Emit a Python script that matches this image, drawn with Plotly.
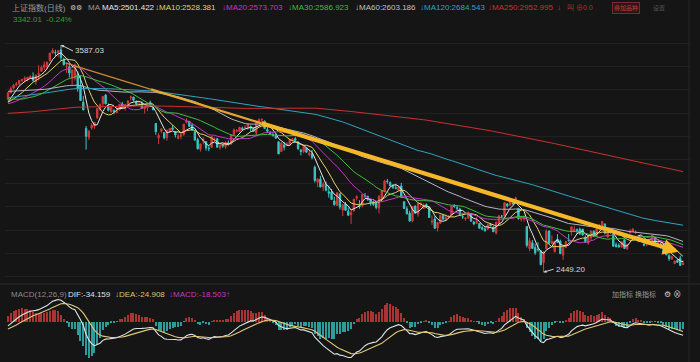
import plotly.graph_objects as go
import pandas as pd

# ---- data: Shanghai Composite daily, 2018 (visible) ----
opens = [
 3314,3347,3371,3387,3392,3407,3414,3415,3423,3428,3403,3439,3455,3475,3478,3509,3547,3550,3548,3563,3512,3479,
 3478,3420,3420,3438,3384,3300,3169,3125,3171,3180,3222,3265,3293,3337,3281,
 3253,3259,3248,3261,3292,3270,3284,3323,3326,3301,3288,3295,3268,3272,3300,3273,3194,3122,3155,3148,3123,3157,
 3172,3153,3119,3129,3139,3199,3205,3186,3153,3113,3065,3107,3103,3070,3074,3114,3118,3074,
 3087,3077,3097,3090,3137,3155,3155,3171,3173,3174,3179,3169,3148,3202,3211,3205,3164,3149,3138,3133,3102,3053,
 3086,3085,3087,3112,3118,3101,3062,3053,3072,3039,3043,2975,2899,2915,2876,2890,2852,2851,2806,2784,
 2842,2760,2790,2755,2737,2756,2820,2781,2782,2833,2828,2814,2802,2795,2770,2819,2855,2906,2898,2881,2872,2859,
 2881,2802,2767,2744,2706,2780,2740,2788,2768,2788,2776,2700,2716,2671,2694,2734,2713,2725,2736,2781,2772,2766,2727,
 2717,2720,2743,2700,2694,2693,2672,2665,2665,2689,2675,2645,2693,2730,2731,2791,2784,2796,2795,
 2768,2714,2715,2678,2567,2596,2572,2562,2556,2497,2566,2656,2593,2552,2615,2605,2534,2573,
 2609,2650,2656,2662,2664,2665,2624,2595,2620,2654,2631,2665,2683,2691,2625,2655,2642,2586,2583,2575,2612,2566,
 2647,2653,2647,2627,2618,2589,2588,2603,2604,2622,2597,2590,2580,2546,2532,2515,2493,2509,2519,2487]
highs = [
 3349,3379,3392,3402,3412,3418,3430,3426,3435,3450,3437,3486,3485,3505,3502,3547,3571,3563,3561,3587.03,3524,3495,
 3495,3463,3494,3454,3433,3332,3181,3161,3195,3202,3271,3294,3331,3338,3294,
 3283,3265,3276,3290,3302,3290,3308,3333,3328,3309,3302,3306,3281,3292,3308,3281,3194,3145,3172,3150,3162,3171,
 3186,3153,3143,3151,3191,3220,3205,3193,3153,3122,3093,3125,3103,3080,3129,3125,3119,3092,
 3091,3103,3109,3138,3169,3165,3177,3178,3185,3192,3183,3175,3194,3219,3219,3209,3176,3157,3150,3143,3105,3100,
 3102,3100,3116,3121,3127,3105,3062,3080,3072,3061,3061,2984,2919,2932,2901,2903,2883,2866,2827,2848,
 2842,2789,2801,2773,2762,2815,2834,2810,2838,2846,2833,2815,2808,2801,2836,2860,2912,2916,2904,2889,2892,2882,
 2897,2803,2779,2757,2779,2784,2795,2797,2794,2794,2777,2733,2729,2699,2736,2734,2738,2735,2781,2790,2783,2772,2737,
 2725,2751,2746,2707,2725,2694,2679,2675,2694,2695,2679,2700,2736,2736,2798,2796,2816,2808,2827,
 2772,2731,2733,2678,2621,2610,2591,2599,2557,2553,2664,2656,2634,2605,2640,2612,2575,2606,
 2641,2677,2682,2668,2673,2665,2633,2632,2658,2659,2668,2691,2704,2691,2660,2663,2647,2598,2594,2602,2613,2589,
 2665,2667,2659,2633,2621,2601,2597,2612,2636,2622,2602,2598,2592,2568,2541,2533,2507,2514,2532,2509]
lows = [
 3314,3346,3365,3380,3384,3403,3398,3405,3418,3403,3388,3410,3452,3462,3465,3504,3544,3528,3526,3509,3485,3447,
 3424,3388,3409,3353,3307,3260,3062.74,3112,3162,3167,3217,3256,3279,3290,3255,
 3248,3240,3247,3259,3268,3258,3280,3309,3303,3283,3282,3268,3244,3255,3277,3259,3137,3091,3145,3114,3108,3146,
 3162,3123,3114,3115,3132,3194,3177,3157,3108,3064,3053,3089,3058,3055,3072,3104,3073,3062,
 3072,3067,3087,3090,3136,3149,3150,3159,3168,3163,3153,3153,3133,3196,3201,3168,3150,3139,3128,3119,3041,3053,
 3059,3082,3083,3103,3106,3062,3034,3045,3049,3029,3014,2898,2875,2874,2855,2854,2822,2811,2783,2782,
 2763,2730,2758,2733,2691,2753,2808,2767,2773,2821,2806,2782,2782,2764,2743,2799,2849,2892,2880,2866,2864,2858,
 2822,2765,2740,2703,2699,2744,2727,2775,2767,2774,2722,2686,2666,2653,2690,2712,2705,2716,2736,2771,2760,2736,2716,
 2706,2717,2704,2684,2690,2668,2659,2653,2660,2679,2651,2638,2691,2719,2729,2774,2784,2788,2795,
 2713,2702,2703,2573,2554,2567,2536,2552,2484,2449.20,2566,2592,2593,2547,2597,2539,2511,2569,
 2604,2632,2654,2641,2637,2632,2596,2587,2608,2627,2628,2661,2680,2639,2620,2644,2578,2575,2573,2572,2566,2560,
 2643,2650,2640,2603,2602,2579,2579,2595,2602,2593,2580,2567,2545,2534,2506,2511,2489,2495,2483,2486]
closes = [
 3348.33,3369.11,3385.71,3391.75,3409.48,3413.90,3421.83,3425.34,3428.94,3410.49,3436.59,3444.67,3474.75,3487.86,3501.36,3546.50,3559.47,3548.31,3558.13,3523.00,3488.01,3480.83,
 3446.98,3462.08,3487.50,3370.65,3309.26,3262.05,3129.85,3154.13,3184.96,3199.16,3268.56,3289.02,3329.57,3292.07,3259.41,
 3273.75,3254.53,3256.93,3289.64,3271.67,3288.41,3307.17,3326.70,3310.24,3291.38,3291.11,3269.88,3279.25,3290.64,3280.95,3263.48,3152.76,3133.72,3166.65,3122.29,3160.53,3168.90,
 3163.18,3136.63,3131.11,3138.29,3190.32,3208.08,3180.16,3159.05,3110.65,3066.80,3091.40,3117.38,3071.54,3068.01,3128.93,3117.97,3075.03,3082.23,
 3081.18,3100.86,3091.03,3136.64,3161.50,3159.15,3174.41,3163.26,3174.03,3192.12,3169.57,3154.28,3193.30,3213.84,3214.35,3168.96,3154.65,3141.30,3135.08,3120.46,3041.44,3095.47,
 3075.14,3091.19,3114.21,3115.18,3109.50,3067.15,3052.78,3079.80,3049.80,3044.16,3021.90,2907.82,2915.73,2875.81,2889.76,2859.34,2844.51,2813.18,2786.90,2847.42,
 2775.56,2786.89,2759.13,2733.88,2747.23,2815.11,2827.63,2777.77,2837.66,2831.18,2814.04,2798.13,2787.26,2772.55,2829.27,2859.54,2905.56,2903.65,2882.23,2873.59,2869.05,2876.40,
 2824.53,2768.02,2740.44,2705.16,2779.37,2744.07,2794.38,2795.31,2785.87,2780.96,2723.26,2705.50,2668.97,2698.47,2733.99,2714.61,2724.62,2729.43,2780.90,2777.98,2769.30,2737.74,2725.25,
 2720.73,2750.58,2704.34,2691.59,2702.30,2669.48,2664.80,2656.11,2686.58,2681.64,2651.79,2699.95,2730.85,2729.24,2797.49,2781.14,2806.81,2791.77,2821.35,
 2716.51,2721.01,2725.84,2583.46,2606.91,2568.10,2546.33,2561.61,2486.42,2550.47,2654.88,2594.83,2603.30,2603.80,2598.85,2542.10,2568.05,2602.78,
 2606.24,2676.48,2665.43,2659.36,2641.34,2635.63,2598.87,2630.52,2654.88,2632.24,2668.17,2679.11,2703.51,2645.43,2651.51,2645.85,2579.48,2575.81,2574.68,2601.74,2567.44,2588.19,
 2654.80,2665.96,2649.81,2605.18,2605.89,2584.58,2594.09,2602.15,2634.05,2593.74,2597.97,2576.65,2549.56,2536.27,2516.25,2527.01,2504.82,2498.29,2483.09,2493.90]

# earlier closes (late 2016 - 2017), used only to warm up the indicators
prior_closes = [
 3122,3114,3110,3104,3104,
 3135,3158,3165,3154,3171,3161,3136,3119,3112,3103,3108,3113,3101,3123,3123,3136,3143,3149,3159,
 3140,3159,3166,3153,3183,3166,3197,3216,3217,3212,3237,3202,3240,3253,3261,3253,3228,3241,
 3246,3230,3218,3233,3242,3240,3216,3212,3237,3239,3241,3237,3250,3266,3250,3261,3248,3269,3266,3241,3252,3222,
 3222,3270,3281,3287,3269,3288,3273,3275,3222,3212,3173,3196,3172,3129,3173,3134,3140,3143,3154,
 3143,3135,3127,3117,3078,3080,3052,3061,3052,3090,3112,3104,3090,3090,3061,3064,3061,3107,3110,3117,
 3102,3105,3091,3102,3140,3150,3158,3139,3153,3130,3132,3124,3144,3140,3157,3147,3185,3191,3173,3188,3192,3191,
 3195,3182,3207,3212,3217,3212,3203,3197,3218,3222,3176,3187,3230,3244,3237,3243,3250,3246,3249,3253,3273,
 3292,3285,3272,3262,3279,3282,3262,3208,3237,3251,3246,3251,3268,3286,3287,3271,3331,3362,3365,3363,3360,3365,3361,
 3367,3379,3384,3365,3365,3376,3384,3384,3371,3362,3356,3370,3366,3357,3341,3343,3345,3339,3348,
 3374,3388,3383,3390,3382,3390,3378,3388,3381,3370,3388,3395,3380,3382,3397,3396,3390,
 3395,3383,3372,3388,3413,3415,3427,3433,3447,3430,3429,3402,3382,3390,3410,3411,3353,3322,3337,3317,
 3318,3309,3293,3272,3262,3289,3322,3281,3292,3266,3267,3296,3300,3287,3317,3297,3280,3296,3275,3307]

ma_periods = [5, 10, 20, 30, 60, 120, 250]
ma_colors = ['#e6e6e6', '#e0d36a', '#c437c4', '#3cbf3c', '#b4b4c8', '#2fa3c0', '#c83232']

peak_idx, peak_val = 19, 3587.03
low_idx, low_val = 192, 2449.20
trend_start = (20.5, 3497)
trend_end = (240.5, 2552)

# ---- indicators ----
allc = pd.Series(prior_closes + closes, dtype=float)
n0 = len(prior_closes)
x = list(range(len(closes)))
mas = {p: allc.rolling(p, min_periods=1).mean().iloc[n0:].values for p in ma_periods}
ema12 = allc.ewm(span=12, adjust=False).mean()
ema26 = allc.ewm(span=26, adjust=False).mean()
dif = ema12 - ema26
dea = dif.ewm(span=9, adjust=False).mean()
hist = (2 * (dif - dea)).iloc[n0:].values
dif = dif.iloc[n0:].values
dea = dea.iloc[n0:].values

fig = go.Figure()
fig.add_trace(go.Candlestick(
    x=x, open=opens, high=highs, low=lows, close=closes,
    increasing=dict(line=dict(color='#d03a3a', width=1), fillcolor='#d03a3a'),
    decreasing=dict(line=dict(color='#3cc4c4', width=1), fillcolor='#3cc4c4'),
    whiskerwidth=0, xaxis='x', yaxis='y', hoverinfo='skip'))
for p, c in zip(ma_periods, ma_colors):
    fig.add_trace(go.Scatter(x=x, y=mas[p], mode='lines', line=dict(color=c, width=1),
                             xaxis='x', yaxis='y', hoverinfo='skip'))

# hand-drawn trend line, getting thicker to the right
segs = [(0.0, 0.14, 1.2, '#c98a3a'), (0.14, 0.32, 2.2, '#e6a532'), (0.32, 0.96, 4.2, '#f6b828')]
(x0, y0), (x1, y1) = trend_start, trend_end
for a, b, w, c in segs:
    fig.add_trace(go.Scatter(x=[x0 + a * (x1 - x0), x0 + b * (x1 - x0)],
                             y=[y0 + a * (y1 - y0), y0 + b * (y1 - y0)],
                             mode='lines', line=dict(color=c, width=w), xaxis='x', yaxis='y',
                             hoverinfo='skip'))

# MACD
fig.add_trace(go.Bar(x=x, y=hist, width=0.4,
                     marker=dict(color=['#a83434' if v >= 0 else '#2f9c9c' for v in hist], line=dict(width=0)),
                     xaxis='x2', yaxis='y2', hoverinfo='skip'))
fig.add_trace(go.Scatter(x=x, y=dif, mode='lines', line=dict(color='#dce4e4', width=1.1),
                         xaxis='x2', yaxis='y2', hoverinfo='skip'))
fig.add_trace(go.Scatter(x=x, y=dea, mode='lines', line=dict(color='#e0c878', width=1.1),
                         xaxis='x2', yaxis='y2', hoverinfo='skip'))

W, H = 700, 362
def px(v): return v / W
def py(v): return 1 - v / H

mn = min(min(dif), min(dea), min(hist))
ppu = 36.5 / (-mn)               # pixels per MACD unit
macd_top, macd_zero = 298, 321.7  # pixel rows of panel top and zero line
y2range = [-(H - macd_zero) / ppu, (macd_zero - macd_top) / ppu]

BG = '#151515'
fig.update_layout(
    width=W, height=H, margin=dict(l=0, r=0, t=0, b=0),
    paper_bgcolor=BG, plot_bgcolor=BG, showlegend=False, bargap=0,
    font=dict(family='Liberation Sans, Noto Sans CJK SC', size=8, color='#a0a0a0'),
    xaxis=dict(domain=[px(5), px(690)], range=[-1.07, 244.5], showgrid=False, zeroline=False,
               showticklabels=False, rangeslider=dict(visible=False), fixedrange=True),
    yaxis=dict(domain=[py(282), py(28)], range=[2400, 3672], showgrid=True, gridcolor='#202020',
               gridwidth=1, tick0=2543, dtick=117, zeroline=False, showticklabels=False),
    xaxis2=dict(domain=[px(5), px(690)], range=[-1.07, 244.5], showgrid=False, zeroline=False,
                showticklabels=False, anchor='y2', matches='x'),
    yaxis2=dict(domain=[0, py(macd_top)], range=y2range, showgrid=False, zeroline=False,
                showticklabels=False, anchor='x2'),
)

shapes = [
    dict(type='line', xref='paper', yref='paper', x0=0, x1=1, y0=py(284), y1=py(284),
         line=dict(color='#2c2c2c', width=1)),
    dict(type='line', xref='paper', yref='paper', x0=px(689), x1=px(689), y0=0, y1=1,
         line=dict(color='#262626', width=1)),
]
fig.update_layout(shapes=shapes)

ann = []
def txt(xp, yp, s, color, size=8):
    ann.append(dict(x=px(xp), y=py(yp), xref='paper', yref='paper', text=s, showarrow=False,
                    xanchor='left', yanchor='middle', borderpad=0, font=dict(color=color, size=size)))

txt(11, 8, '上证指数(日线)', '#9a9a9a')
txt(69, 8, '⚙⚙', '#c8c8c8', 7)
txt(87, 8, 'MA', '#9a9a9a')
txt(101, 8, 'MA5:2501.422', '#e6e6e6')
txt(154, 8, '↓MA10:2528.381', '#e0d36a')
txt(221, 8, '↓MA20:2573.703', '#c437c4')
txt(287, 8, '↓MA30:2586.923', '#3cbf3c')
txt(354, 8, '↓MA60:2603.186', '#c0c0c8')
txt(419, 8, '↓MA120:2684.543', '#2fa3c0')
txt(487, 8, '↓MA250:2952.995', '#c83232')
txt(556, 8, '↓', '#c83232')
txt(566, 8, '叫 ⊕0.0', '#b83030', 7)
ann.append(dict(x=px(612), y=py(8), xref='paper', yref='paper', text='叠加品种', showarrow=False,
                xanchor='left', yanchor='middle', font=dict(color='#c04040', size=6),
                bordercolor='#7a2a2a', borderwidth=1, borderpad=1, bgcolor='#2a1616'))
txt(652, 8, '设置', '#555555', 6)
txt(12, 19, '3342.01  -0.24%', '#2fa02f')

txt(10, 294, 'MACD(12,26,9)', '#8a8a8a')
txt(67, 294, 'DIF:-34.159', '#e0e0e0')
txt(114, 294, '↓DEA:-24.908', '#dcc478')
txt(168, 294, '↓MACD:-18.503↑', '#c437c4')
txt(611, 294, '加指标 换指标', '#9a9a9a', 7)
txt(663, 294, '⚙ ⊗', '#d0d0d0', 8)

ann.append(dict(x=peak_idx, y=peak_val, xref='x', yref='y', text='3587.03', showarrow=True,
                arrowhead=2, arrowsize=0.6, arrowwidth=1, arrowcolor='#d0d0d0', ax=12, ay=6,
                xanchor='left', font=dict(color='#d8d8d8', size=8)))
ann.append(dict(x=low_idx, y=low_val, xref='x', yref='y', text='2449.20', showarrow=True,
                arrowhead=2, arrowsize=0.6, arrowwidth=1, arrowcolor='#d0d0d0', ax=10, ay=-3,
                xanchor='left', font=dict(color='#d8d8d8', size=8)))
ax_ = x0 + 0.93 * (x1 - x0); ay_ = y0 + 0.93 * (y1 - y0)
ann.append(dict(x=x1, y=y1, xref='x', yref='y', ax=ax_, ay=ay_, axref='x', ayref='y', text='',
                showarrow=True, arrowhead=2, arrowsize=0.75, arrowwidth=4.2, arrowcolor='#f6b828'))
fig.update_layout(annotations=ann)

fig.write_html('out.html', config={'displayModeBar': False},
               post_script="document.body.style.margin='0';document.body.style.padding='0';")
